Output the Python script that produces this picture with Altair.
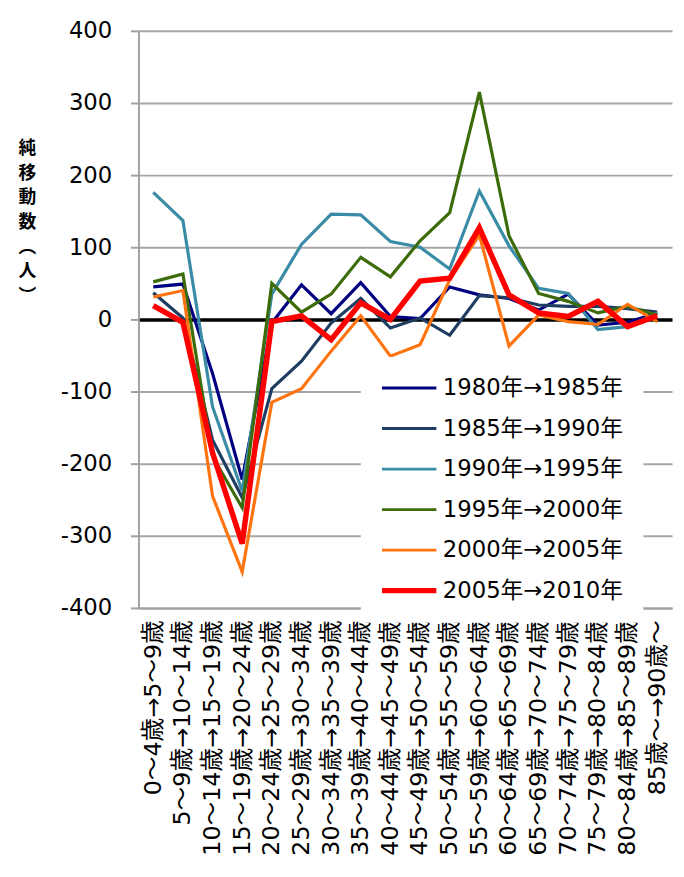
import altair as alt
import pandas as pd

categories = [
    "0～4歳→5～9歳", "5～9歳→10～14歳", "10～14歳→15～19歳", "15～19歳→20～24歳",
    "20～24歳→25～29歳", "25～29歳→30～34歳", "30～34歳→35～39歳", "35～39歳→40～44歳",
    "40～44歳→45～49歳", "45～49歳→50～54歳", "50～54歳→55～59歳", "55～59歳→60～64歳",
    "60～64歳→65～69歳", "65～69歳→70～74歳", "70～74歳→75～79歳", "75～79歳→80～84歳",
    "80～84歳→85～89歳", "85歳～→90歳～",
]

series_names = ["1980年→1985年", "1985年→1990年", "1990年→1995年",
                "1995年→2000年", "2000年→2005年", "2005年→2010年"]

s1980 = [45, 49, -75, -222, -5, 48, 8, 51, 4, 1, 45, 34, 29, 13, 35, -8, -4, 9]
s1985 = [37, 2, -167, -247, -96, -58, -5, 29, -12, 2, -22, 33, 30, 20, 18, 18, 15, 10]
s1990 = [176, 137, -121, -238, 35, 104, 146, 145, 108, 100, 70, 178, 102, 43, 36, -14, -10, 9]
s1995 = [52, 63, -190, -261, 50, 10, 35, 86, 59, 109, 148, 315, 116, 36, 25, 9, 18, 6]
s2000 = [31, 40, -245, -350, -115, -96, -44, 5, -51, -35, 55, 117, -37, 6, -3, -7, 21, -3]
s2005 = [19, -4, -185, -311, -3, 5, -28, 23, 0, 53, 57, 127, 34, 9, 4, 25, -10, 5]

colors = ["#000080", "#1F3D63", "#3A8BA5", "#3C6B0A", "#FF7411", "#FF0000"]
highlight = "2005年→2010年"

rows = []
for name, vals in zip(series_names, [s1980, s1985, s1990, s1995, s2000, s2005]):
    for c, v in zip(categories, vals):
        rows.append({"age": c, "series": name, "value": v})
df = pd.DataFrame(rows)

FONT = "DejaVu Sans, Noto Sans CJK JP, sans-serif"

legend = alt.Legend(
    title=None, orient="none", legendX=225, legendY=330,
    fillColor="white", padding=20, labelFont=FONT, labelFontSize=23,
    labelColor="#000000", labelLimit=400, symbolType="M-1,0H4.5",
    symbolSize=400, labelOffset=40, rowPadding=17,
    symbolStrokeWidth=alt.ExprRef(expr=f"datum.value === '{highlight}' ? 5.5 : 3"),
)

x_enc = alt.X("age:N", sort=categories, title=None,
              axis=alt.Axis(labelAngle=270, labelFont=FONT, labelFontSize=24,
                            labelColor="#000000", labelPadding=12, ticks=False,
                            domainColor="#A0A0A0", domainWidth=2, grid=False,
                            labelLimit=400, labelOverlap=False))
y_enc = alt.Y("value:Q", scale=alt.Scale(domain=[-400, 400], nice=False, zero=False),
              axis=alt.Axis(values=list(range(-400, 401, 100)),
                            labelExpr="'' + datum.value",
                            labelFont=FONT, labelFontSize=23, labelColor="#000000",
                            labelPadding=19, tickSize=8, tickColor="#A0A0A0", tickWidth=2,
                            domainColor="#A0A0A0", domainWidth=2,
                            gridColor=alt.condition("datum.value === 0", alt.value("#000000"), alt.value("#A6A6A6")),
                            gridWidth=alt.condition("datum.value === 0", alt.value(3.5), alt.value(2)),
                            title=["純", "移", "動", "数", "︵", "人", "︶"],
                            titleAngle=0, titleAlign="center", titleBaseline="top",
                            titleX=-113, titleY=110, titleFont="Noto Sans CJK JP",
                            titleFontSize=18, titleFontWeight="bold", titleLineHeight=25,
                            titleColor="#000000"))
c_enc = alt.Color("series:N", sort=series_names,
                  scale=alt.Scale(domain=series_names, range=colors), legend=legend)

base = alt.Chart(df).encode(x=x_enc, y=y_enc, color=c_enc)
thin = base.transform_filter(f"datum.series !== '{highlight}'").mark_line(strokeWidth=3.2)
thick = base.transform_filter(f"datum.series === '{highlight}'").mark_line(strokeWidth=5.5)

chart = alt.layer(thin, thick).properties(
    width=540, height=584,
    autosize=alt.AutoSizeParams(type="none"),
    padding={"left": 132, "top": 18, "right": 4, "bottom": 255},
).configure_view(stroke=None)

chart.save("out.html", embed_options={"renderer": "svg", "actions": False})
